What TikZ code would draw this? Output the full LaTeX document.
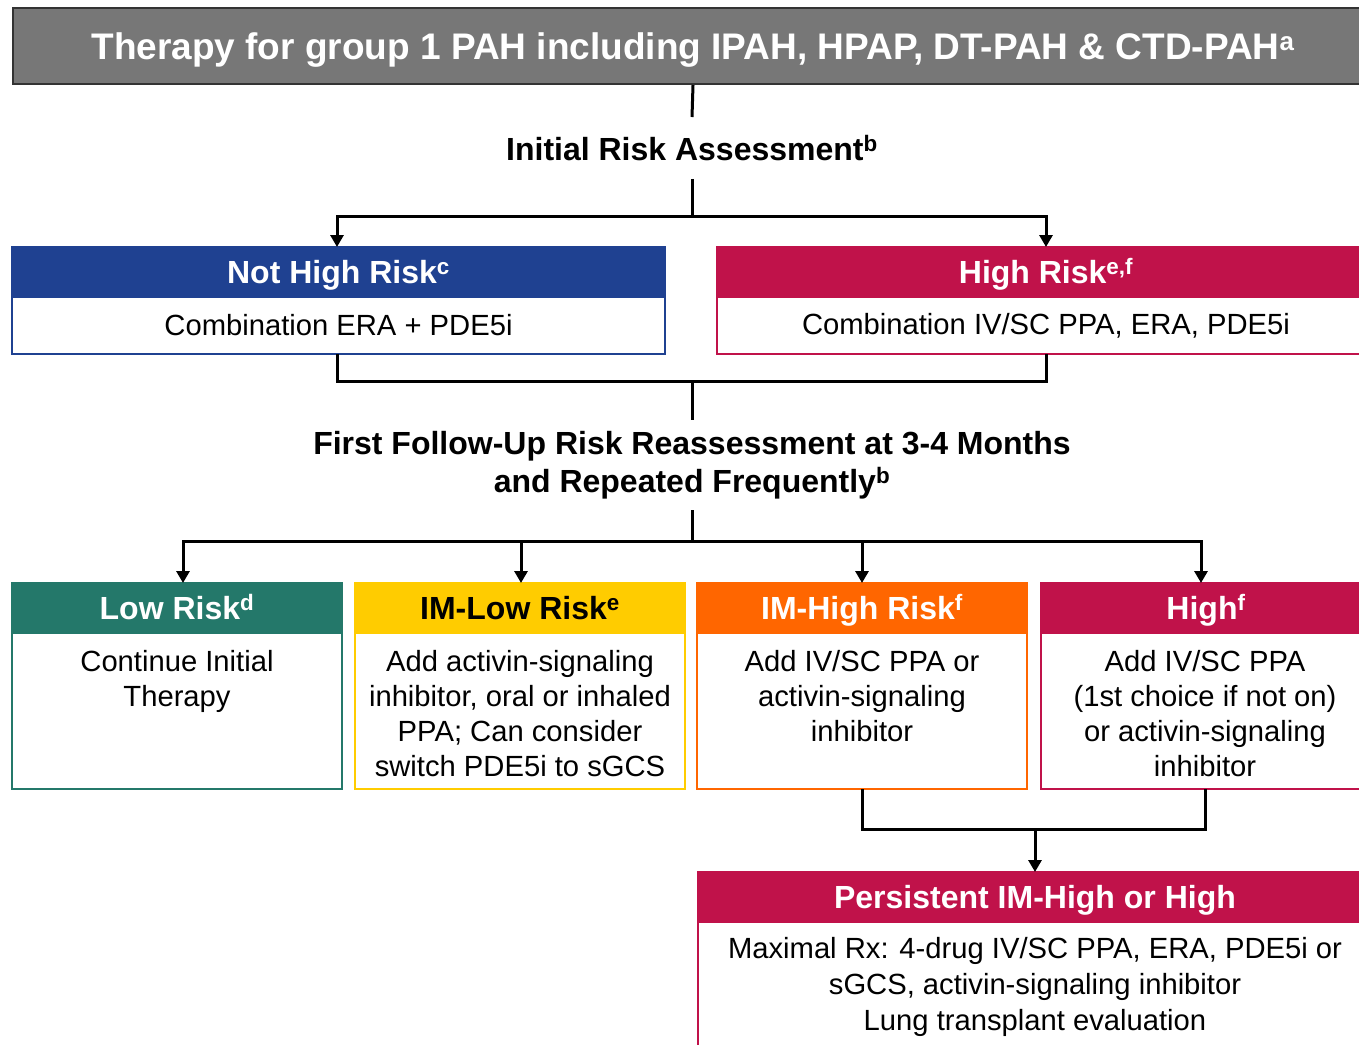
\documentclass[tikz,border=0pt]{standalone}
\usepackage{fontspec}
\setmainfont{Liberation Sans}
\usetikzlibrary{arrows.meta}
\definecolor{ttlgray}{HTML}{777777}
\definecolor{ttlborder}{HTML}{333333}
\definecolor{pblue}{HTML}{1F4191}
\definecolor{pred}{HTML}{C0124A}
\definecolor{pteal}{HTML}{24786A}
\definecolor{pyel}{HTML}{FFCC00}
\definecolor{porange}{HTML}{FF6600}
\newcommand\pahbody{\fontsize{29.2}{35}\selectfont}
\begin{document}
\begin{tikzpicture}[x=1pt,y=-1pt,
  conn/.style={line width=3pt},
  arr/.style={line width=3pt,-{Triangle[width=13pt,length=12pt]}},
  hdr/.style={rectangle, anchor=north west, minimum height=50pt, inner sep=0pt, outer sep=0pt,
    text=white, font=\fontsize{32}{38}\selectfont\bfseries, line width=2pt,
    text height=27pt, text depth=4pt},
  bodybox/.style={rectangle, anchor=north west, inner sep=0pt, outer sep=0pt, fill=white,
    line width=2pt, font=\pahbody},
  btext/.style={anchor=north, inner sep=0pt, align=center, font=\pahbody},
  lbl/.style={font=\fontsize{32}{38}\selectfont\bfseries, align=center, inner xsep=4pt},
]
\useasboundingbox (0,0) rectangle (1359,1044);
\fill[white] (0,0) rectangle (1359,1044);

% title
\node[rectangle, anchor=north west, minimum width=1360pt, minimum height=76pt, fill=ttlgray,
  draw=ttlborder, line width=2pt, text=white, inner sep=0pt,
  text height=30pt, text depth=3.5pt,
  font=\fontsize{37}{44}\selectfont\bfseries] (title) at (12,7)
  {Therapy for group 1 PAH including IPAH, HPAP, DT-PAH \& CTD-PAH\textsuperscript{a}};

\node[lbl, inner ysep=18pt] (ira) at (692,148) {Initial Risk Assessment\textsuperscript{b}};

% first level boxes
\node[bodybox, draw=pblue, minimum width=653pt, minimum height=57pt] (nhb) at (12,297) {Combination ERA + PDE5i};
\node[hdr, fill=pblue, draw=pblue, minimum width=653pt] (nh) at (12,247) {Not High Risk\textsuperscript{c}};
\node[bodybox, draw=pred, minimum width=658pt, minimum height=57pt] (hrb) at (717,297) {Combination IV/SC PPA, ERA, PDE5i};
\node[hdr, fill=pred, draw=pred, minimum width=658pt] (hr) at (717,247) {High Risk\textsuperscript{e,f}};

\node[lbl, inner ysep=11pt] (ffu) at (692,465) {First Follow-Up Risk Reassessment at 3-4 Months\\and Repeated Frequently\textsuperscript{b}};

% second level boxes
\node[bodybox, draw=pteal, minimum width=330pt, minimum height=156pt] (lowb) at (12,633) {};
\node[hdr, fill=pteal, draw=pteal, minimum width=330pt] (low) at (12,583) {Low Risk\textsuperscript{d}};
\node[btext] (lowt) at (177,650) {Continue Initial\\Therapy};

\node[bodybox, draw=pyel, minimum width=330pt, minimum height=156pt] (imlb) at (355,633) {};
\node[hdr, fill=pyel, draw=pyel, text=black, minimum width=330pt] (iml) at (355,583) {IM-Low Risk\textsuperscript{e}};
\node[btext] (imlt) at (520,650) {Add activin-signaling\\inhibitor, oral or inhaled\\PPA; Can consider\\switch PDE5i to sGCS};

\node[bodybox, draw=porange, minimum width=330pt, minimum height=156pt] (imhb) at (697,633) {};
\node[hdr, fill=porange, draw=porange, minimum width=330pt] (imh) at (697,583) {IM-High Risk\textsuperscript{f}};
\node[btext] (imht) at (862,650) {Add IV/SC PPA or\\activin-signaling\\inhibitor};

\node[bodybox, draw=pred, minimum width=330pt, minimum height=156pt] (hib) at (1041,633) {};
\node[hdr, fill=pred, draw=pred, minimum width=330pt] (hi) at (1041,583) {High\textsuperscript{f}};
\node[btext] (hit) at (1205,650) {Add IV/SC PPA\\(1st choice if not on)\\or activin-signaling\\inhibitor};

% persistent box
\node[bodybox, draw=pred, minimum width=674pt, minimum height=150pt] (phb) at (698,922) {};
\node[hdr, fill=pred, draw=pred, minimum width=674pt] (ph) at (698,872) {Persistent IM-High or High};
\node[btext, font=\fontsize{29.2}{36}\selectfont] (pht) at (1035,937) {Maximal Rx: 4-drug IV/SC PPA, ERA, PDE5i or\\sGCS, activin-signaling inhibitor\\Lung transplant evaluation};

% connectors
\coordinate (j1) at (692,216);
\coordinate (j2) at (692,381);
\coordinate (j3) at (692,541);
\coordinate (j4) at (1035,829);
\draw[conn] (title.south) -- (ira.north);
\draw[conn] (ira.south) -- (j1);
\draw[arr] (j1) -| ([xshift=-1.5pt]nh.north);
\draw[arr] (j1) -| (hr.north);
\draw[conn] ([xshift=-1.5pt]nhb.south) |- (j2) -| (hrb.south);
\draw[conn] (j2) -- (ffu.north);
\draw[conn] (ffu.south) -- (j3);
\draw[arr] (j3) -| ([xshift=6pt]low.north);
\draw[arr] (j3) -| ([xshift=1pt]iml.north);
\draw[arr] (j3) -| (imh.north);
\draw[arr] (j3) -| ([xshift=-5pt]hi.north);
\draw[conn] (imhb.south) |- (j4) -| ([xshift=-1pt]hib.south);
\draw[arr] (j4) -- (ph.north);
\end{tikzpicture}
\end{document}
